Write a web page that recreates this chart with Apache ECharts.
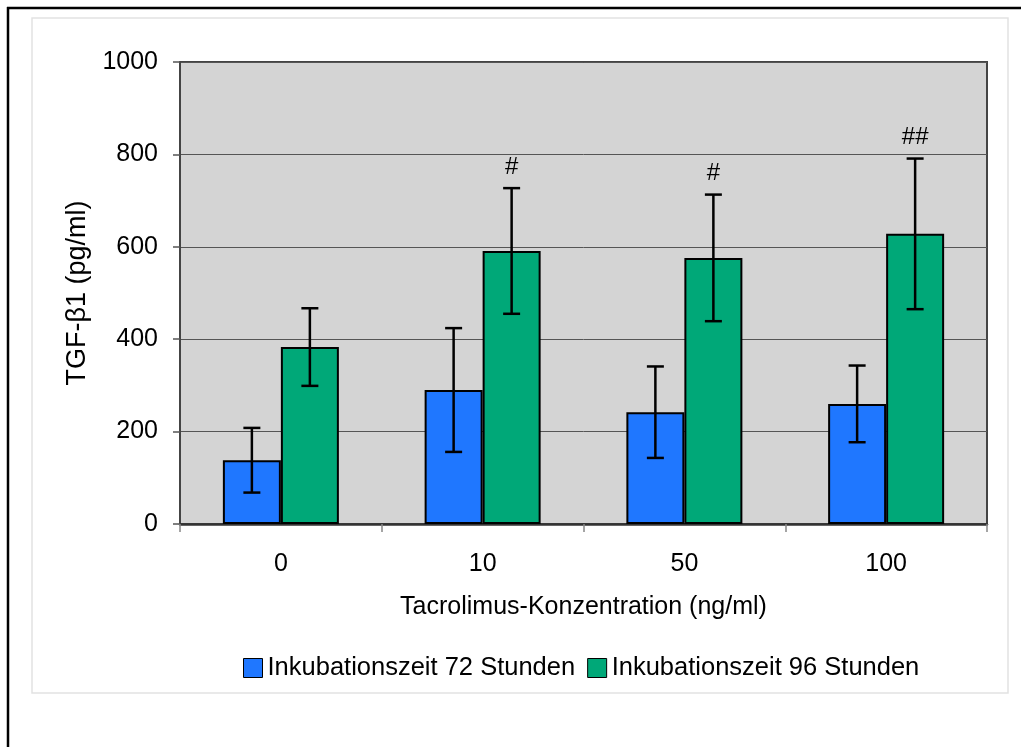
<!DOCTYPE html>
<html><head><meta charset="utf-8">
<script src="https://cdn.jsdelivr.net/npm/echarts@6/dist/echarts.min.js"></script>
<style>html,body{margin:0;padding:0;background:#fff}#c{width:1021px;height:747px}</style>
</head><body><div id="c"></div>
<script>
const categories = ['0', '10', '50', '100'];
const mean72 = [138, 290, 242, 260];
const err72 = [70, 134, 99, 83];
const mean96 = [383, 591, 576, 628];
const err96 = [84, 136, 137, 163];
const marks96 = ['', '#', '#', '##'];
const yTicks = [0, 200, 400, 600, 800, 1000];
const name72 = 'Inkubationszeit 72 Stunden';
const name96 = 'Inkubationszeit 96 Stunden';

const FONT = '"Liberation Sans", Arial, sans-serif';
const BW = 58;

function errSeries(means, errs, marks, offset) {
  return {
    type: 'custom',
    silent: true,
    z: 10,
    data: means.map((m, i) => [i, m - errs[i], m + errs[i], marks ? marks[i] : '']),
    renderItem: function (params, api) {
      const x = api.coord([api.value(0), 0])[0] + offset;
      const lo = api.coord([api.value(0), api.value(1)])[1];
      const hi = api.coord([api.value(0), api.value(2)])[1];
      const cap = 8.5;
      const st = { stroke: '#000', lineWidth: 2.5 };
      const children = [
        { type: 'line', shape: { x1: x, y1: lo, x2: x, y2: hi }, style: st },
        { type: 'line', shape: { x1: x - cap, y1: lo, x2: x + cap, y2: lo }, style: st },
        { type: 'line', shape: { x1: x - cap, y1: hi, x2: x + cap, y2: hi }, style: st }
      ];
      const t = api.value(3);
      if (t) {
        children.push({ type: 'text', x: x, y: hi - 9, style: { text: t, fill: '#000', font: '24px ' + FONT, align: 'center', verticalAlign: 'bottom' } });
      }
      return { type: 'group', children: children };
    }
  };
}

const chart = echarts.init(document.getElementById('c'), null, { renderer: 'canvas' });
chart.setOption({
  animation: false,
  backgroundColor: '#fff',
  textStyle: { fontFamily: FONT },
  graphic: [
    { type: 'rect', shape: { x: 32, y: 18, width: 976, height: 675 }, style: { fill: 'none', stroke: '#e2e2e2', lineWidth: 1.5 }, z: -10 },
    { type: 'line', shape: { x1: 7, y1: 8, x2: 1021, y2: 8 }, style: { stroke: '#000', lineWidth: 2.5 } },
    { type: 'line', shape: { x1: 8, y1: 7, x2: 8, y2: 747 }, style: { stroke: '#000', lineWidth: 2.5 } }
  ],
  grid: { left: 180, right: 34, top: 62, bottom: 223, show: true, backgroundColor: '#d4d4d4', borderColor: '#444', borderWidth: 2, z: 0 },
  legend: {
    top: 650, left: 238,
    itemWidth: 19, itemHeight: 19, itemGap: 12,
    icon: 'rect',
    textStyle: { fontSize: 25.5, color: '#000', fontFamily: FONT },
    data: [
      { name: name72, itemStyle: { color: '#1f77ff', borderColor: '#000', borderWidth: 1 } },
      { name: name96, itemStyle: { color: '#00a878', borderColor: '#000', borderWidth: 1 } }
    ]
  },
  xAxis: {
    type: 'category', data: categories,
    name: 'Tacrolimus-Konzentration (ng/ml)', nameLocation: 'middle', nameGap: 71,
    nameTextStyle: { fontSize: 25, color: '#000', fontFamily: FONT },
    axisLine: { lineStyle: { color: '#333', width: 2.5 } },
    axisTick: { show: true, length: 8, lineStyle: { color: '#888', width: 1.5 } },
    axisLabel: { fontSize: 25, color: '#000', margin: 28, fontFamily: FONT },
    splitLine: { show: false }
  },
  yAxis: {
    type: 'value', min: 0, max: 1000, interval: 200,
    name: 'TGF-\u03B21 (pg/ml)', nameLocation: 'middle', nameGap: 88, nameRotate: 90,
    nameTextStyle: { fontSize: 27, color: '#000', fontFamily: FONT },
    axisLine: { show: true, lineStyle: { color: '#444', width: 2 } },
    axisTick: { show: true, length: 7, lineStyle: { color: '#555', width: 1.5 } },
    axisLabel: { fontSize: 25, color: '#000', margin: 22, fontFamily: FONT,
      formatter: v => yTicks.includes(v) ? String(v) : '' },
    splitLine: { show: true, lineStyle: { color: '#555', width: 1 } }
  },
  series: [
    { name: name72, type: 'bar', data: mean72, barWidth: BW, barGap: '0%',
      itemStyle: { color: '#1f77ff', borderColor: '#000', borderWidth: 2 } },
    { name: name96, type: 'bar', data: mean96, barWidth: BW, barGap: '0%',
      itemStyle: { color: '#00a878', borderColor: '#000', borderWidth: 2 } },
    errSeries(mean72, err72, null, -BW / 2),
    errSeries(mean96, err96, marks96, BW / 2)
  ]
});
</script></body></html>
